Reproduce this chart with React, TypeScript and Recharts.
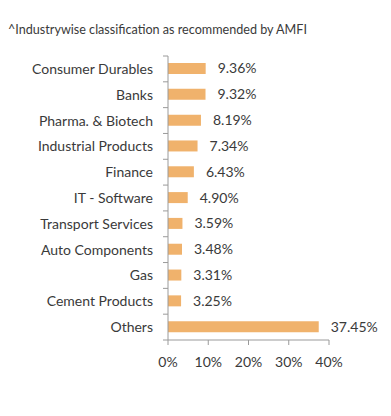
import React from 'react';
import { BarChart, Bar, XAxis, YAxis, LabelList } from 'recharts';

// Sector allocation (% of net assets), top to bottom as drawn
const sectors = [
  'Consumer Durables',
  'Banks',
  'Pharma. & Biotech',
  'Industrial Products',
  'Finance',
  'IT - Software',
  'Transport Services',
  'Auto Components',
  'Gas',
  'Cement Products',
  'Others',
];
const weights = [9.36, 9.32, 8.19, 7.34, 6.43, 4.9, 3.59, 3.48, 3.31, 3.25, 37.45];
const xTicks = [0, 10, 20, 30, 40];

const data = sectors.map((name, i) => ({ name, value: weights[i] }));

const FONT = 'Lato, "Open Sans", sans-serif';
const TEXT = '#3a3a3a';
const AXIS = '#9a9a9a';
const BAR = '#F0B26C';
const TICK_LEN = 5;
const TICK_GAP = 10;

// category label + small tick marks on the band edges (not the centres)
const CategoryTick = (props: any) => {
  const { x, y, payload, index, visibleTicksCount } = props;
  const half = payload?.offset ?? 0;
  const ax = x + TICK_LEN + TICK_GAP;
  const last = index === (visibleTicksCount ?? sectors.length) - 1;
  return (
    <g>
      <line x1={ax - TICK_LEN} x2={ax} y1={y - half} y2={y - half} stroke={AXIS} />
      {last && <line x1={ax - TICK_LEN} x2={ax} y1={y + half} y2={y + half} stroke={AXIS} />}
      <text
        x={x}
        y={y}
        dy="0.355em"
        textAnchor="end"
        fill={TEXT}
        fontSize={14}
        fontFamily={FONT}
      >
        {payload.value}
      </text>
    </g>
  );
};

export default function App() {
  return (
    <div
      style={{
        position: 'absolute',
        left: 0,
        top: 0,
        width: 391,
        height: 416,
        background: '#fff',
        fontFamily: FONT,
      }}
    >
      <div
        style={{
          position: 'absolute',
          left: 8,
          top: 22,
          fontSize: 12.6,
          color: TEXT,
          whiteSpace: 'nowrap',
        }}
      >
        ^Industrywise classification as recommended by AMFI
      </div>
      <BarChart
        width={391}
        height={416}
        data={data}
        layout="vertical"
        margin={{ top: 56, right: 62, bottom: 46, left: 0 }}
        barSize={11}
      >
        <XAxis
          type="number"
          domain={[0, 40]}
          ticks={xTicks}
          tickFormatter={(v) => `${v}%`}
          tick={{ fill: TEXT, fontSize: 14, fontFamily: FONT }}
          tickSize={TICK_LEN}
          tickMargin={12}
          height={30}
          stroke={AXIS}
          interval={0}
        />
        <YAxis
          type="category"
          dataKey="name"
          width={168}
          stroke={AXIS}
          tickLine={false}
          tickSize={TICK_LEN}
          tickMargin={TICK_GAP}
          tick={<CategoryTick />}
          interval={0}
        />
        <Bar dataKey="value" fill={BAR} isAnimationActive={false}>
          <LabelList
            dataKey="value"
            position="right"
            offset={12}
            formatter={(v: number) => `${v.toFixed(2)}%`}
            style={{ fill: TEXT, fontSize: 14, fontFamily: FONT }}
          />
        </Bar>
      </BarChart>
    </div>
  );
}
